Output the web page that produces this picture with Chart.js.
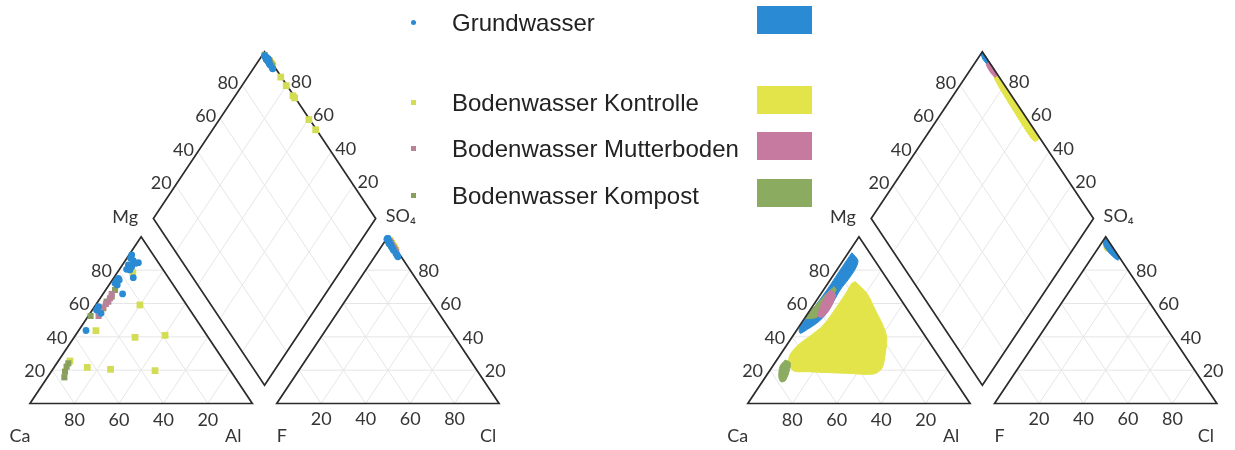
<!DOCTYPE html>
<html>
<head>
<meta charset="utf-8">
<script src="https://cdn.jsdelivr.net/npm/chart.js@4.4.1/dist/chart.umd.min.js"></script>
<style>
  html, body { margin: 0; padding: 0; background: #fff; }
  #wrap { position: relative; width: 1235px; height: 450px; overflow: hidden; }
  #wrap canvas { position: absolute; left: 0; top: 0; }
  .lg-text { position: absolute; font-family: "Liberation Sans", Arial, sans-serif; font-size: 24px;
             line-height: 24px; color: #222; white-space: nowrap; }
  .lg-swatch { position: absolute; width: 55px; height: 28px; }
  .lg-mark { position: absolute; }
</style>
</head>
<body>
<div id="wrap"><canvas id="piper" width="1235" height="450"></canvas></div>
<script>
// ---------- sample series (meq-%) ----------
// cations: Mg and Al given, Ca = 100 - Mg - Al
// anions:  SO4 and Cl given, F = 100 - SO4 - Cl
const seriesNames = ['Grundwasser', 'Bodenwasser Kontrolle', 'Bodenwasser Mutterboden', 'Bodenwasser Kompost'];

const grundMg  = [89.1, 87.1, 85.7, 84.1, 84.5, 83.1, 82.1, 80.5, 80.1, 75.5, 75.1, 73.7, 74.1, 72.1, 71.1, 65.7, 58.1, 56.1, 54.1, 43.8];
const grundAl  = [1.2, 1.7, 3.6, 5.6, 6.5, 2.7, 4.7, 3.2, 4.9, 8.7, 2.2, 2.1, 3.1, 2.2, 3.7, 8.8, 1.7, 1.9, 4.9, 3.3];
const grundSO4 = [98.5, 97.0, 99.0, 88.0, 96.0, 98.0, 95.0, 89.0, 97.0, 94.0, 98.5, 96.0, 93.0, 97.0, 99.0, 90.0, 95.0, 96.5, 98.0, 92.0];
const grundCl  = [0.3, 1.8, 0.4, 10.5, 2.5, 1.2, 3.8, 9.6, 1.9, 4.6, 0.5, 2.8, 5.6, 1.8, 0.4, 8.6, 3.7, 2.5, 1.0, 6.5];

const kontrolleMg  = [78.5, 59.1, 39.7, 40.9, 43.7, 21.7, 20.5, 19.7, 25.5];
const kontrolleAl  = [7.0, 19.9, 27.4, 40.3, 7.8, 14.9, 26.0, 46.4, 5.2];
const kontrolleSO4 = [96.0, 94.0, 97.0, 93.0, 95.0, 98.0, 92.0, 94.0, 96.0];
const kontrolleCl  = [3.6, 5.6, 2.7, 6.6, 4.6, 1.7, 7.6, 5.6, 3.6];

const mutterMg  = [65.7, 63.1, 61.1, 59.7, 57.7, 52.5];
const mutterAl  = [3.9, 4.4, 4.7, 4.3, 4.1, 4.6];
const mutterSO4 = [92.0, 95.0, 97.0, 91.0, 93.0, 96.0];
const mutterCl  = [7.2, 4.3, 2.5, 8.2, 6.2, 3.3];

const kompostMg  = [68.1, 64.1, 61.1, 57.1, 52.5, 24.1, 22.1, 19.1, 15.7];
const kompostAl  = [4.2, 4.7, 3.9, 4.4, 1.0, 5.2, 5.4, 6.2, 7.6];
const kompostSO4 = [94.5, 96.0, 93.0, 97.0, 95.0, 94.0, 92.0, 96.0, 98.0];
const kompostCl  = [4.5, 3.2, 6.2, 2.2, 4.1, 5.2, 7.0, 3.3, 1.2];

// ---------- field outlines (second diagram) ----------
// cation fields: [Mg, Al]
const fieldKontrolleCat = [[73.1, 11.8], [66.1, 20.5], [56.1, 29.3], [46.1, 38.0], [39.1, 43.0], [30.1, 46.8], [21.1, 49.8],
  [17.7, 47.7], [18.1, 35.5], [19.1, 17.0], [19.6, 10.7], [25.1, 5.8], [30.1, 4.3], [36.1, 5.5], [40.5, 7.8],
  [47.1, 10.5], [58.1, 11.0], [67.1, 11.0], [72.1, 10.8]];
const fieldGrundCat = [[90.4, 1.6], [85.7, 6.7], [80.5, 8.0], [74.5, 8.0], [68.1, 7.5], [61.1, 8.0], [54.2, 8.4], [49.1, 7.3],
  [44.5, 4.6], [42.1, 2.5], [45.1, 0.7], [54.2, 0.9], [68.1, 1.5], [83.0, 1.5]];
const fieldKompostCatA = [[70.1, 3.8], [68.1, 5.7], [57.2, 5.4], [51.7, 5.2], [51.2, 0.6], [54.5, 0.4], [66.1, 2.5]];
const fieldKompostCatB = [[26.1, 3.8], [24.5, 6.8], [19.1, 9.0], [13.6, 10.0], [13.1, 8.3], [16.1, 5.9], [22.5, 3.3]];
const fieldMutterCat = [[68.1, 3.0], [65.7, 6.5], [61.1, 8.0], [55.7, 8.5], [51.7, 7.5], [52.5, 5.3], [57.7, 3.7], [64.1, 2.8]];
// anion fields: [SO4, Cl]
const fieldKontrolleAni = [[96.0, 0.8], [92.0, 3.6], [91.5, 5.0], [93.0, 5.0], [96.0, 2.5]];
const fieldMutterAni = [[95.0, 1.8], [93.0, 3.5], [94.0, 4.0], [95.5, 2.5]];
const fieldGrundAni = [[100.0, 0.0], [98.5, 1.3], [93.0, 6.8], [87.0, 12.5], [86.0, 12.6], [87.5, 10.0], [92.0, 4.5], [96.0, 1.0]];
// diamond fields: [SO4+Cl, Ca+Mg]
const fieldKontrolleDia = [[100, 88], [100, 50], [99, 48.5], [96.8, 49.5], [96, 53], [96.4, 70], [97.3, 86], [99, 88.5]];
const fieldMutterDia = [[100, 95.5], [100, 87], [98.2, 86.5], [97.5, 90], [98, 94.5]];
const fieldGrundDia = [[100, 100], [100, 95], [98.5, 94.5], [98, 97.5], [99, 100]];

const tickValues = [20, 40, 60, 80];

// ---------- colours ----------
const colPoint = ['#2a8bd4', '#d3dc55', '#b98298', '#88a05c'];
const colField = ['#2a8bd4', '#e2e44a', '#c77a9f', '#8aab60'];

// ---------- Piper geometry (units: triangle side = 100) ----------
const GAP = 11;
const H = Math.sqrt(3) / 2;
const offsets = [0, 322.9];           // left and right diagram
const PX_X = 2.223, PX_Y = 1.925, ORIGIN_X = 30, ORIGIN_Y = 403.5;

const cat = (off, mg, al) => ({ x: off + al + mg / 2, y: mg * H });
const ani = (off, so4, cl) => ({ x: off + 100 + GAP + cl + so4 / 2, y: so4 * H });
const dia = (off, a, c) => ({ x: off + 100 + GAP / 2 + (a - c) / 2, y: GAP * H + (a + c) * H });
const BREAK = () => ({ x: null, y: null });

function framePoints(off) {
  return [
    cat(off, 0, 0), cat(off, 0, 100), cat(off, 100, 0), cat(off, 0, 0), cat(off, 0, 100), BREAK(),
    ani(off, 0, 0), ani(off, 0, 100), ani(off, 100, 0), ani(off, 0, 0), ani(off, 0, 100), BREAK(),
    dia(off, 0, 0), dia(off, 100, 0), dia(off, 100, 100), dia(off, 0, 100), dia(off, 0, 0), dia(off, 100, 0)
  ];
}
function gridPoints(off) {
  const g = [];
  for (const k of tickValues) {
    g.push(cat(off, k, 0), cat(off, k, 100 - k), BREAK());
    g.push(cat(off, 0, k), cat(off, 100 - k, k), BREAK());
    g.push(cat(off, 0, 100 - k), cat(off, 100 - k, 0), BREAK());
    g.push(ani(off, k, 0), ani(off, k, 100 - k), BREAK());
    g.push(ani(off, 0, k), ani(off, 100 - k, k), BREAK());
    g.push(ani(off, 0, 100 - k), ani(off, 100 - k, 0), BREAK());
    g.push(dia(off, k, 0), dia(off, k, 100), BREAK());
    g.push(dia(off, 0, k), dia(off, 100, k), BREAK());
  }
  return g;
}

const datasets = [];
const lineSet = (data, color, width, order) => ({
  data, showLine: true, fill: false, borderColor: color, borderWidth: width,
  pointRadius: 0, pointHoverRadius: 0, spanGaps: false, order, borderJoinStyle: 'miter'
});
const areaSet = (data, color, order) => ({
  data: data.concat([data[0]]), showLine: true, fill: 'shape', backgroundColor: color,
  borderColor: color, borderWidth: 1, pointRadius: 0, pointHoverRadius: 0, tension: 0.3, order
});
const pointSet = (data, color, style, radius, order) => ({
  data, showLine: false, pointStyle: style, pointRadius: radius, pointHoverRadius: radius,
  backgroundColor: color, borderColor: color, borderWidth: 0, order
});

offsets.forEach(off => {
  datasets.push(lineSet(gridPoints(off), '#e6e6e6', 1, 50));
  datasets.push(lineSet(framePoints(off), '#2b2b2b', 1.7, 5));
});

// left diagram: individual samples
const samples = [
  [grundMg, grundAl, grundSO4, grundCl, 'circle', 3.4, 1],
  [mutterMg, mutterAl, mutterSO4, mutterCl, 'rect', 4.3, 2],
  [kompostMg, kompostAl, kompostSO4, kompostCl, 'rect', 4.3, 3],
  [kontrolleMg, kontrolleAl, kontrolleSO4, kontrolleCl, 'rect', 4.8, 4]
];
const sampleColor = [colPoint[0], colPoint[2], colPoint[3], colPoint[1]];
samples.forEach(([mg, al, so4, cl, style, r, order], i) => {
  const off = offsets[0];
  const pts = [];
  mg.forEach((m, j) => {
    pts.push(cat(off, m, al[j]));
    pts.push(ani(off, so4[j], cl[j]));
    pts.push(dia(off, so4[j] + cl[j], 100 - al[j]));
  });
  datasets.push(pointSet(pts, sampleColor[i], style, r, order));
});

// right diagram: fields
const R = offsets[1];
const catField = f => f.map(([m, a]) => cat(R, m, a));
const aniField = f => f.map(([s, c]) => ani(R, s, c));
const diaField = f => f.map(([a, c]) => dia(R, a, c));
datasets.push(areaSet(catField(fieldKontrolleCat), colField[1], 14));
datasets.push(areaSet(catField(fieldGrundCat), colField[0], 13));
datasets.push(areaSet(catField(fieldKompostCatA), colField[3], 12));
datasets.push(areaSet(catField(fieldKompostCatB), colField[3], 12));
datasets.push(areaSet(catField(fieldMutterCat), colField[2], 11));
datasets.push(areaSet(aniField(fieldKontrolleAni), colField[1], 14));
datasets.push(areaSet(aniField(fieldMutterAni), colField[2], 13));
datasets.push(areaSet(aniField(fieldGrundAni), colField[0], 12));
datasets.push(areaSet(diaField(fieldKontrolleDia), colField[1], 14));
datasets.push(areaSet(diaField(fieldMutterDia), colField[2], 13));
datasets.push(areaSet(diaField(fieldGrundDia), colField[0], 12));

// ---------- axis labels drawn along the triangle edges ----------
const axisLabels = {
  id: 'piperLabels',
  afterDatasetsDraw(chart) {
    const { ctx, scales: { x, y } } = chart;
    const px = p => [x.getPixelForValue(p.x), y.getPixelForValue(p.y)];
    const text = (s, p, dx, dy, align) => {
      const [X, Y] = px(p);
      ctx.textAlign = align;
      ctx.fillText(s, X + dx, Y + dy);
    };
    ctx.save();
    ctx.fillStyle = '#353535';
    ctx.textBaseline = 'middle';
    ctx.font = '18px Lato, "Liberation Sans", sans-serif';
    offsets.forEach(off => {
      tickValues.forEach(k => {
        text(String(k), cat(off, k, 0), -7, 1, 'right');            // Mg
        text(String(k), cat(off, 0, 100 - k), 0, 17, 'center');     // Ca
        text(String(k), ani(off, k, 100 - k), 8, 1, 'left');        // SO4
        text(String(k), ani(off, 0, k), 0, 16, 'center');           // Cl
        text(String(k), dia(off, k, 100), -4, -2, 'right');         // SO4 + Cl
        text(String(k), dia(off, 100, k), 4, -3, 'left');           // Ca + Mg
      });
      text('Ca', cat(off, 0, 0), -10, 33, 'center');
      text('Al', cat(off, 0, 100), -19, 33, 'center');
      text('F', ani(off, 0, 0), 5, 33, 'center');
      text('Cl', ani(off, 0, 100), -11, 33, 'center');
      text('Mg', cat(off, 100, 0), -16, -20, 'center');
      text('SO₄', ani(off, 100, 0), 13, -21, 'center');
    });
    ctx.restore();
  }
};

new Chart(document.getElementById('piper'), {
  type: 'scatter',
  data: { datasets },
  options: {
    responsive: false,
    animation: false,
    events: [],
    layout: { padding: 0, autoPadding: false },
    plugins: { legend: { display: false }, tooltip: { enabled: false } },
    scales: {
      x: { type: 'linear', display: false, min: -ORIGIN_X / PX_X, max: (1235 - ORIGIN_X) / PX_X },
      y: { type: 'linear', display: false, min: (ORIGIN_Y - 450) / PX_Y, max: ORIGIN_Y / PX_Y }
    }
  },
  plugins: [axisLabels]
});

// ---------- legend ----------
const wrap = document.getElementById('wrap');
const legendRows = [11.3, 90.5, 137.2, 183.8];
seriesNames.forEach((name, i) => {
  const t = document.createElement('div');
  t.className = 'lg-text';
  t.style.left = '452px';
  t.style.top = legendRows[i] + 'px';
  t.textContent = name;
  wrap.appendChild(t);

  const sw = document.createElement('div');
  sw.className = 'lg-swatch';
  sw.style.left = '757px';
  sw.style.top = (legendRows[i] - 5) + 'px';
  sw.style.background = colField[i];
  wrap.appendChild(sw);

  const mk = document.createElement('div');
  mk.className = 'lg-mark';
  const size = 5;
  mk.style.width = size + 'px';
  mk.style.height = size + 'px';
  mk.style.left = (413 - size / 2) + 'px';
  mk.style.top = (legendRows[i] + 11.5 - size / 2) + 'px';
  mk.style.background = colPoint[i];
  if (i === 0) mk.style.borderRadius = '50%';
  wrap.appendChild(mk);
});
</script>
</body>
</html>
